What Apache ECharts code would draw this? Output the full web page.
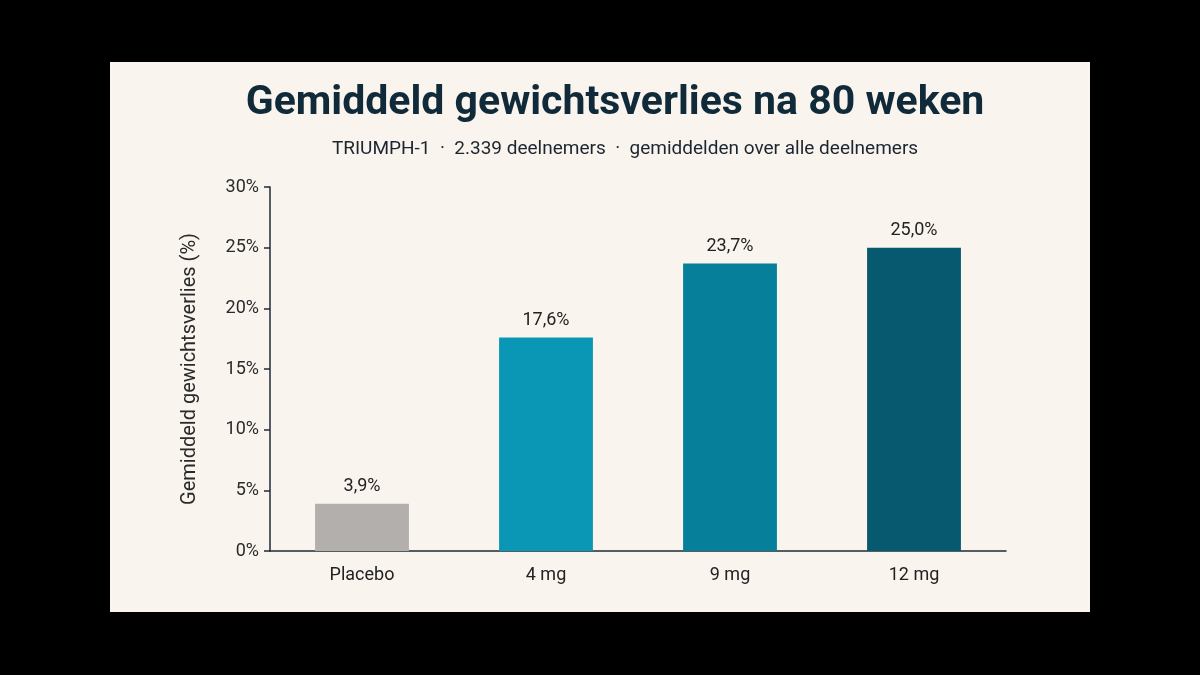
<!DOCTYPE html>
<html>
<head>
<meta charset="utf-8">
<script src="https://cdn.jsdelivr.net/npm/echarts@6/dist/echarts.min.js"></script>
<style>
  html, body { margin: 0; padding: 0; background: #000; }
  body { width: 1200px; height: 675px; position: relative; overflow: hidden; }
  #panel {
    position: absolute;
    left: 110px;
    top: 62px;
    width: 980px;
    height: 550px;
  }
</style>
</head>
<body>
<div id="panel"></div>
<script>
// data
const categories = ['Placebo', '4 mg', '9 mg', '12 mg']
const lossValues = [3.9, 17.6, 23.7, 25.0]
const yTicks = [0, 5, 10, 15, 20, 25, 30]

// kleuren per staaf
const barColors = ['#b2afac', '#0a97b5', '#067f9a', '#06596e']

const chart = echarts.init(document.getElementById('panel'))

const option = {
  backgroundColor: '#f9f4ee',
  textStyle: { fontFamily: 'Roboto, "Noto Sans", sans-serif' },
  title: [
    {
      text: 'Gemiddeld gewichtsverlies na 80 weken',
      left: 500,
      top: 16,
      textAlign: 'center',
      textStyle: {
        fontSize: 41,
        fontWeight: 'bold',
        color: '#102a3a',
        fontFamily: 'Roboto, sans-serif',
      },
    },
    {
      text: 'TRIUMPH-1  ·  2.339 deelnemers  ·  gemiddelden over alle deelnemers',
      left: 510,
      top: 73,
      textAlign: 'center',
      textStyle: {
        fontSize: 19,
        fontWeight: 'normal',
        color: '#1c2630',
        fontFamily: 'Roboto, sans-serif',
      },
    },
  ],
  grid: {
    left: 160,
    right: 84,
    top: 125,
    bottom: 61,
  },
  xAxis: {
    type: 'category',
    data: categories,
    axisLine: {
      show: true,
      lineStyle: { color: '#1f2a35', width: 1.5 },
    },
    axisTick: { show: false },
    axisLabel: {
      color: '#222',
      fontSize: 18,
      margin: 15,
    },
  },
  yAxis: {
    type: 'value',
    min: yTicks[0],
    max: yTicks[yTicks.length - 1],
    interval: 5,
    name: 'Gemiddeld gewichtsverlies (%)',
    nameLocation: 'middle',
    nameRotate: 90,
    nameGap: 70,
    nameTextStyle: {
      color: '#2a2a2a',
      fontSize: 20,
    },
    axisLine: {
      show: true,
      lineStyle: { color: '#1f2a35', width: 1.5 },
    },
    axisTick: {
      show: true,
      length: 6,
      lineStyle: { color: '#1f2a35', width: 1.5 },
    },
    axisLabel: {
      color: '#2a2a2a',
      fontSize: 18,
      margin: 11,
      formatter: v => v + '%',
    },
    splitLine: { show: false },
  },
  series: [
    {
      type: 'bar',
      barWidth: '51%',
      data: lossValues.map((v, i) => ({
        value: v,
        itemStyle: { color: barColors[i] },
      })),
      label: {
        show: true,
        position: 'top',
        distance: 8,
        color: '#222',
        fontSize: 18,
        formatter: p => p.value.toFixed(1).replace('.', ',') + '%',
      },
    },
  ],
}

chart.setOption(option)
</script>
</body>
</html>
